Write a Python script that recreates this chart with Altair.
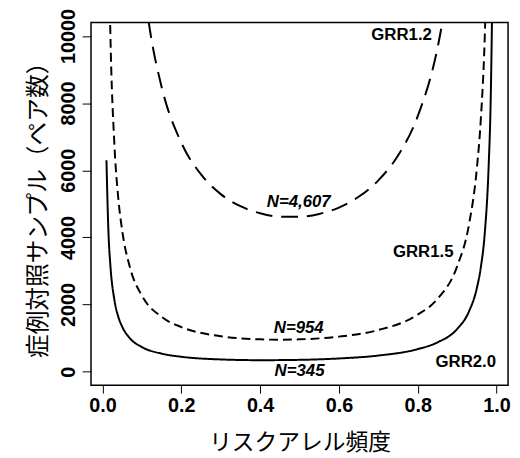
import altair as alt
import pandas as pd

# GRR 2.0 (solid)
freq_20 = [0.01, 0.015, 0.02, 0.03, 0.04, 0.05, 0.07, 0.1, 0.15, 0.2, 0.3, 0.4, 0.5,
           0.6, 0.7, 0.8, 0.85, 0.9, 0.93, 0.95, 0.96, 0.97, 0.98, 0.985, 0.99]
n_20 = [6300, 4170, 3160, 2150, 1640, 1340, 990, 735, 540, 447, 367, 345, 355,
        396, 483, 675, 874, 1275, 1795, 2490, 3100, 4110, 6130, 8000, 11800]

# GRR 1.5 (short dashes)
freq_15 = [0.01, 0.015, 0.02, 0.03, 0.04, 0.05, 0.07, 0.1, 0.15, 0.2, 0.3, 0.4, 0.45,
           0.5, 0.6, 0.7, 0.8, 0.85, 0.9, 0.93, 0.95, 0.96, 0.97, 0.98]
n_15 = [19800, 13300, 10040, 6800, 5170, 4200, 3090, 2265, 1635, 1331, 1058, 965, 954,
        965, 1047, 1243, 1700, 2170, 3140, 4380, 6050, 7500, 9940, 14800]

# GRR 1.2 (long dashes)
freq_12 = [0.1, 0.12, 0.15, 0.2, 0.25, 0.3, 0.35, 0.4, 0.45, 0.5, 0.55, 0.6, 0.65,
           0.7, 0.75, 0.8, 0.85, 0.87]
n_12 = [11950, 10200, 8480, 6820, 5875, 5290, 4930, 4720, 4620, 4615, 4700, 4890, 5210,
        5700, 6440, 7610, 9630, 10900]

grr_labels = ["GRR1.2", "GRR1.5", "GRR2.0"]
grr_label_x = [0.759, 0.814, 0.922]
grr_label_y = [10040, 3550, 300]

n_labels = ["N=4,607", "N=954", "N=345"]
n_label_x = [0.498, 0.498, 0.5]
n_label_y = [5060, 1307, 10]

x_ticks = [0.0, 0.2, 0.4, 0.6, 0.8, 1.0]
y_ticks = [0, 2000, 4000, 6000, 8000, 10000]

df = pd.concat([
    pd.DataFrame({"x": freq_12, "y": n_12, "s": "GRR1.2"}),
    pd.DataFrame({"x": freq_15, "y": n_15, "s": "GRR1.5"}),
    pd.DataFrame({"x": freq_20, "y": n_20, "s": "GRR2.0"}),
])
df_grr = pd.DataFrame({"t": grr_labels, "x": grr_label_x, "y": grr_label_y})
df_n = pd.DataFrame({"t": n_labels, "x": n_label_x, "y": n_label_y})

FONT = "Liberation Sans"
JP = "Noto Sans CJK JP"

xs = alt.Scale(domain=[-0.0292, 1.0292], nice=False, zero=False)
ys = alt.Scale(domain=[-400, 10400], nice=False, zero=False)

x_axis = alt.Axis(values=x_ticks, format=".1f", grid=False, domain=False,
                  tickColor="black", tickSize=8, tickWidth=1,
                  labelFont=FONT, labelFontWeight="bold", labelFontSize=20,
                  labelColor="black", labelPadding=3,
                  title="リスクアレル頻度", titleFont=JP, titleFontSize=23,
                  titleFontWeight="normal", titleColor="black",
                  titleBaseline="middle", titleY=58)
y_axis = alt.Axis(values=y_ticks, format="d", grid=False, domain=False,
                  tickColor="black", tickSize=9, tickWidth=1,
                  labelFont=FONT, labelFontWeight="bold", labelFontSize=20,
                  labelColor="black", labelAngle=270, labelAlign="center",
                  labelBaseline="bottom", labelPadding=4,
                  title="症例対照サンプル（ペア数）", titleFont=JP, titleFontSize=24,
                  titleFontWeight="normal", titleColor="black", titlePadding=8)

base = alt.Chart(df)

def curve(name, dash):
    return base.transform_filter(alt.datum.s == name).mark_line(
        color="black", strokeWidth=2, clip=True, interpolate="monotone",
        strokeDash=dash
    ).encode(
        x=alt.X("x:Q", scale=xs, axis=x_axis),
        y=alt.Y("y:Q", scale=ys, axis=y_axis),
        order="x:Q",
    )

l12 = curve("GRR1.2", [17, 9])
l15 = curve("GRR1.5", [9, 5])
l20 = curve("GRR2.0", [1, 0])

t_grr = alt.Chart(df_grr).mark_text(
    font=FONT, fontWeight="bold", fontSize=17, color="black"
).encode(x=alt.X("x:Q", scale=xs), y=alt.Y("y:Q", scale=ys), text="t:N")

t_n = alt.Chart(df_n).mark_text(
    font=FONT, fontWeight="bold", fontStyle="italic", fontSize=17, color="black"
).encode(x=alt.X("x:Q", scale=xs), y=alt.Y("y:Q", scale=ys), text="t:N")

chart = alt.layer(l12, l15, l20, t_grr, t_n).properties(
    width=422, height=367,
    autosize=alt.AutoSizeParams(type="none"),
    padding={"left": 84, "top": 12, "right": 4, "bottom": 73},
    background="white",
).configure_view(stroke="black", strokeWidth=1.5)

chart.save("out.html", embed_options={"renderer": "svg", "actions": False})
